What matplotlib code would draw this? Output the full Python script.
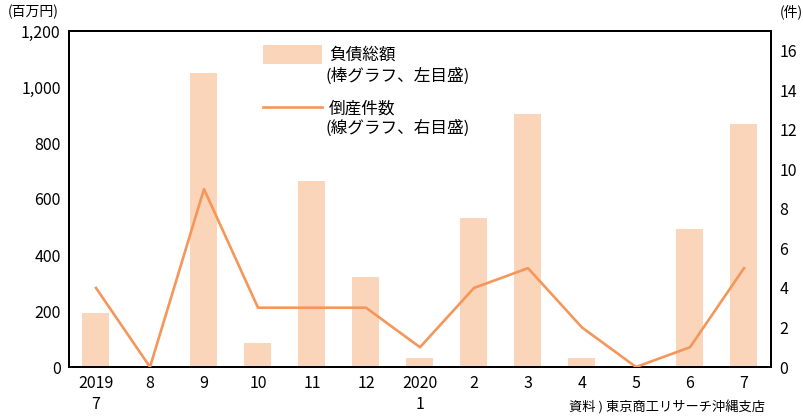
import matplotlib
matplotlib.use("Agg")
import matplotlib.pyplot as plt
from matplotlib.patches import Rectangle
from matplotlib.lines import Line2D

plt.rcParams['font.family'] = ['Noto Sans CJK JP', 'DejaVu Sans']

categories = ["2019\n7", "8", "9", "10", "11", "12", "2020\n1", "2", "3", "4", "5", "6", "7"]
debt = [193, 0, 1050, 86, 664, 321, 32, 532, 904, 32, 0, 493, 868]
cases = [4, 0, 9, 3, 3, 3, 1, 4, 5, 2, 0, 1, 5]
left_ticks = [0, 200, 400, 600, 800, 1000, 1200]
right_ticks = [0, 2, 4, 6, 8, 10, 12, 14, 16]
legend_labels = [("負債総額", "(棒グラフ、左目盛)"), ("倒産件数", "(線グラフ、右目盛)")]

bar_color = "#FBD5BA"
line_color = "#F5965A"

W, H = 804, 418
fig = plt.figure(figsize=(W / 100, H / 100), dpi=100)
ax = fig.add_axes([69/W, 51/H, (771-69)/W, (367-31)/H])
x = list(range(len(categories)))
ax.bar(x, debt, width=0.5, color=bar_color, zorder=1)
ax.set_xlim(-0.5, len(categories) - 0.5)
ax.set_ylim(0, 1200)
ax.set_yticks(left_ticks)
ax.set_yticklabels([f"{v:,}" for v in left_ticks])
ax.set_xticks(x)
ax.set_xticklabels(categories, linespacing=1.3)

ax2 = ax.twinx()
ax2.plot(x, cases, color=line_color, linewidth=1.9, zorder=3)
ax2.set_ylim(0, 17)
ax2.set_yticks(right_ticks)

for a in (ax, ax2):
    a.tick_params(length=0, labelsize=11.5, pad=6)
    for s in a.spines.values():
        s.set_linewidth(1.4)
        s.set_color("black")
ax.tick_params(axis='x', pad=6)

def fx(px):
    return px / W

def fy(py):
    return 1 - py / H

fig.text(fx(8), fy(12), "(百万円)", fontsize=10, va='center', ha='left')
fig.text(fx(780), fy(12), "(件)", fontsize=10, va='center', ha='left')
fig.text(fx(765), fy(407), "資料 ) 東京商工リサーチ沖縄支店", fontsize=9.5, va='center', ha='right')

# legend (drawn manually to match handle alignment)
fig.patches.append(Rectangle((fx(263), fy(64)), fx(322) - fx(263), fy(45) - fy(64),
                             transform=fig.transFigure, facecolor=bar_color, edgecolor='none'))
fig.lines.append(Line2D([fx(263), fx(322)], [fy(107), fy(107)], transform=fig.transFigure,
                        color=line_color, linewidth=1.9))
for (l1, l2), (y1, y2) in zip(legend_labels, [(55, 76), (109, 128)]):
    fig.text(fx(329), fy(y1), l1, fontsize=12, va='center', ha='left')
    fig.text(fx(326), fy(y2), l2, fontsize=12, va='center', ha='left')

fig.savefig("out.png", dpi=100)
